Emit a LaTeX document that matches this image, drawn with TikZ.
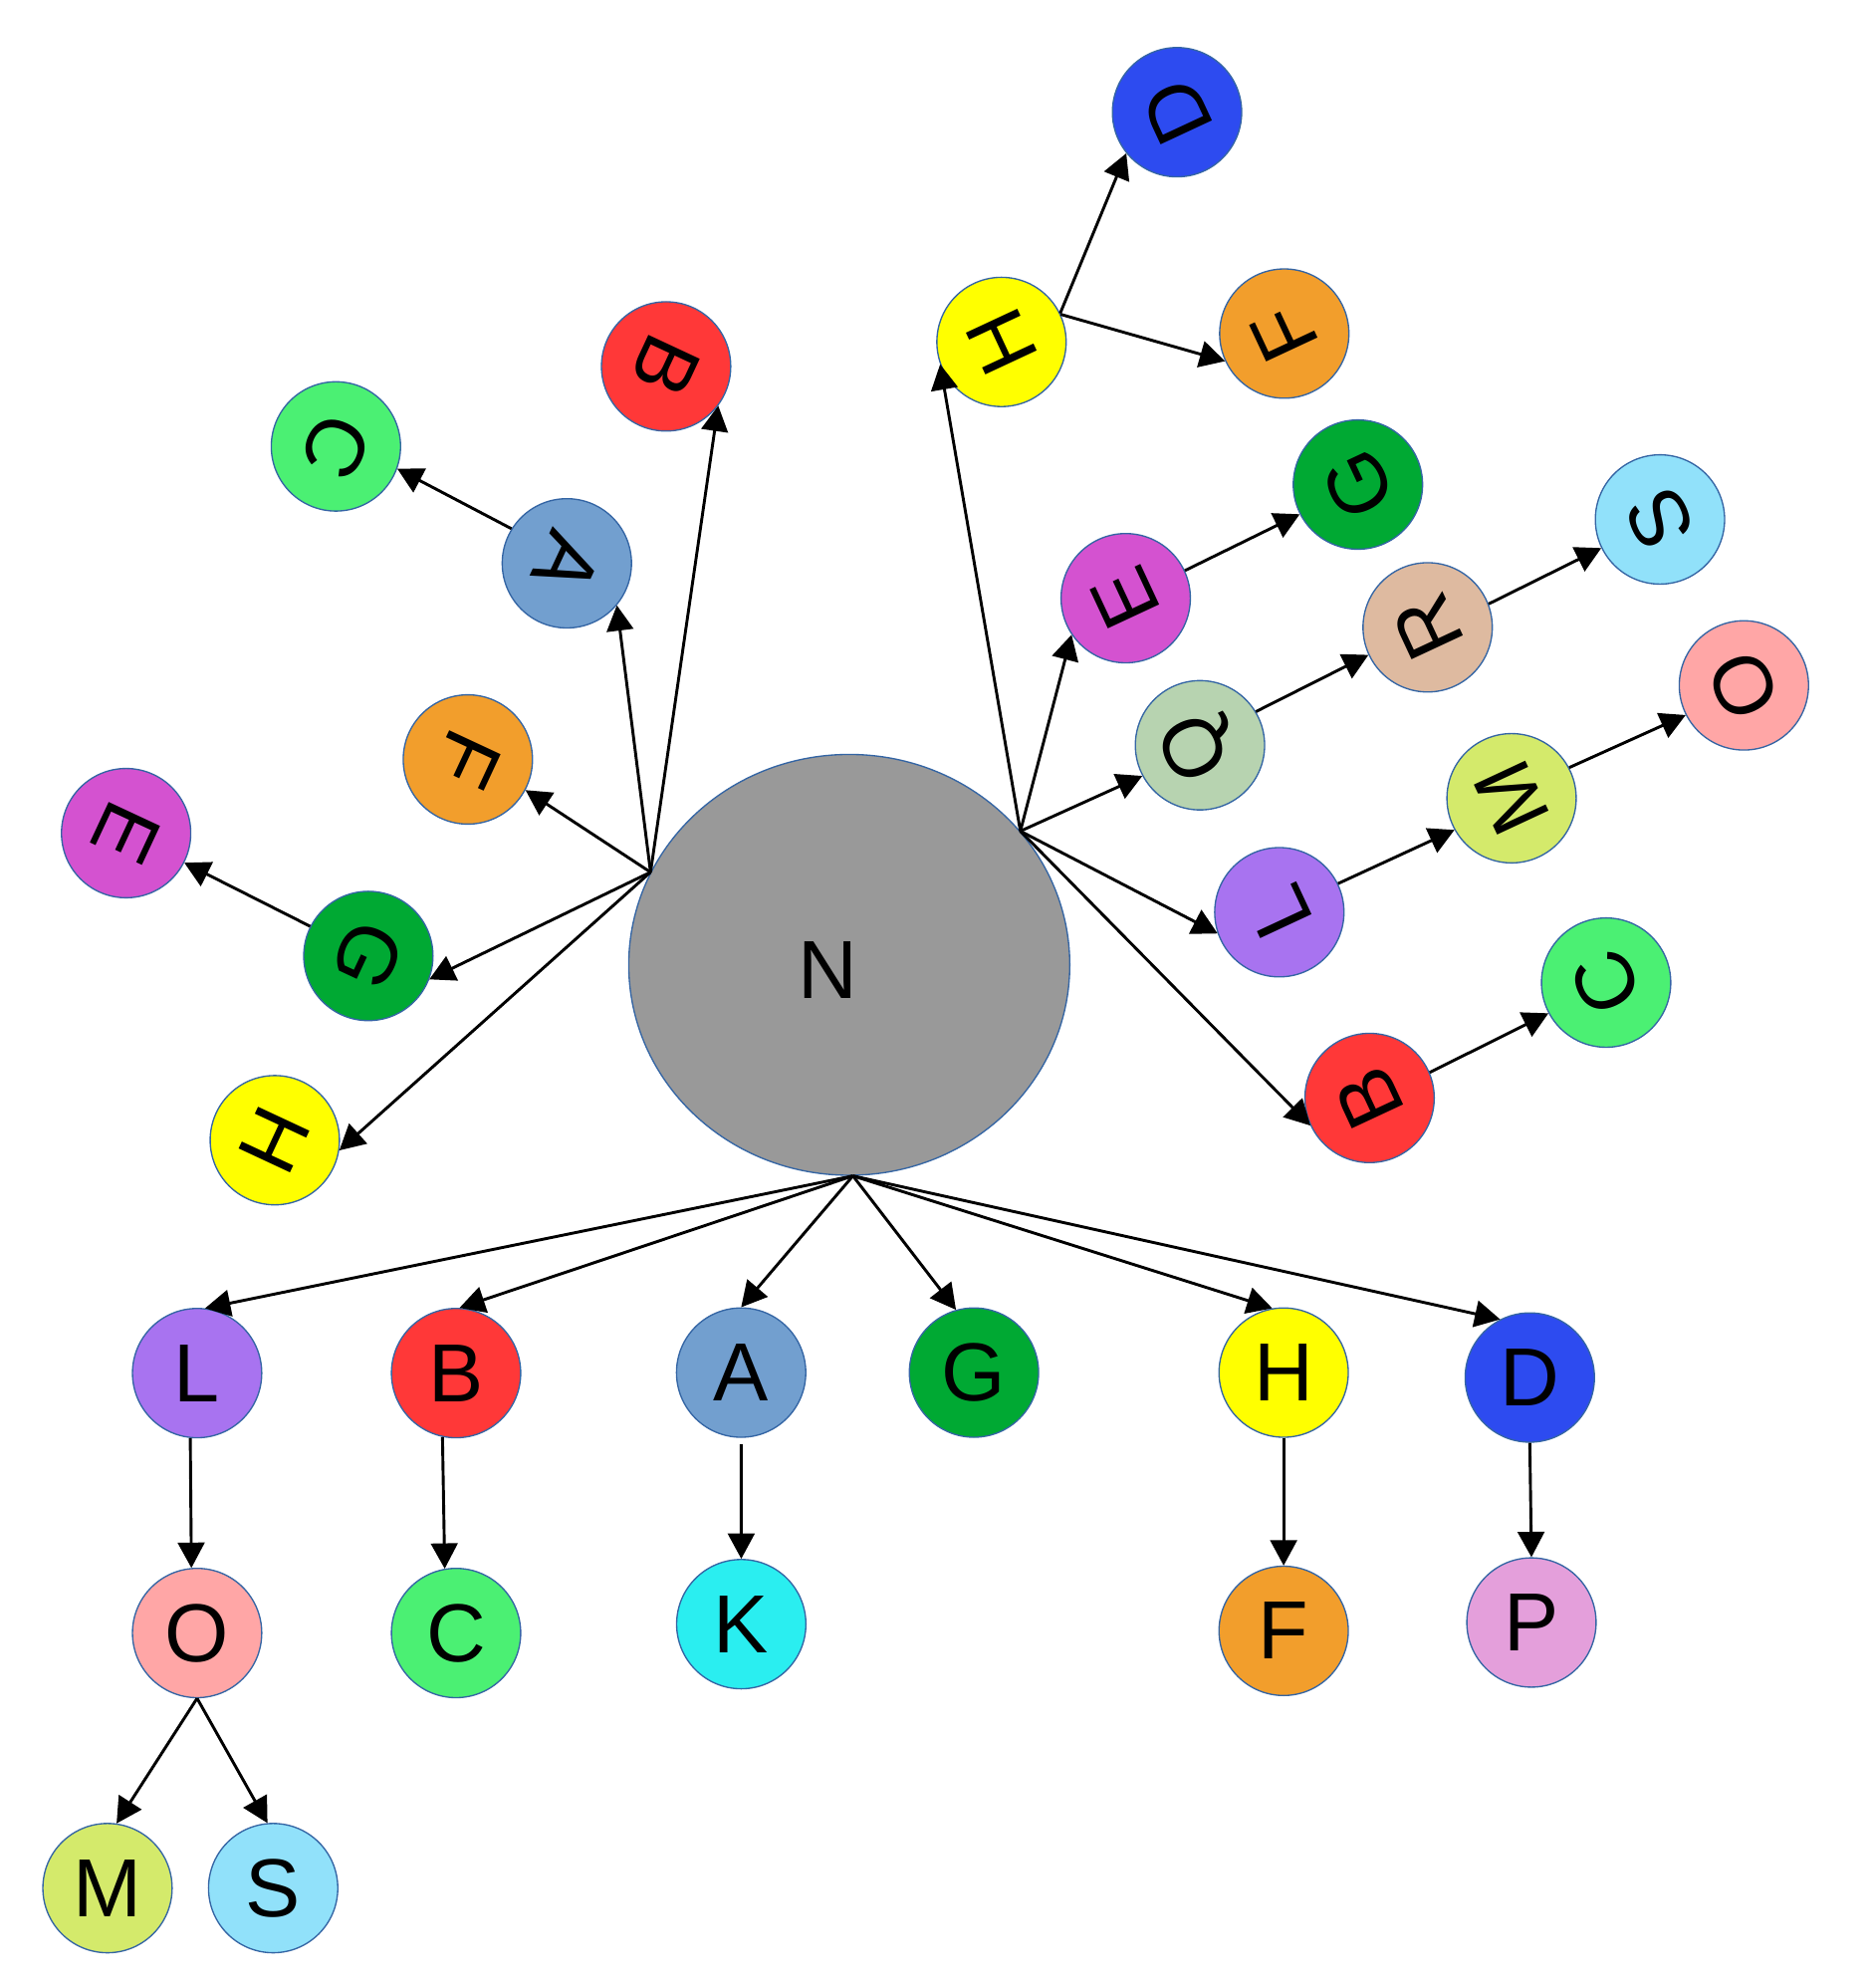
\documentclass[tikz,border=0pt]{standalone}
\usepackage{fontspec}
\setmainfont{Liberation Sans}
\usetikzlibrary{arrows.meta, shapes.geometric}

\definecolor{cborder}{HTML}{3465A4}
\definecolor{cgray}{HTML}{999999}
\definecolor{cred}{HTML}{FF3838}
\definecolor{cblue}{HTML}{729FCF}
\definecolor{cgreen}{HTML}{4BF073}
\definecolor{cdkgreen}{HTML}{00A933}
\definecolor{cyellow}{HTML}{FFFF00}
\definecolor{cdkblue}{HTML}{2D4BF0}
\definecolor{corange}{HTML}{F29E2C}
\definecolor{cmagenta}{HTML}{D452D0}
\definecolor{cpurple}{HTML}{A873F0}
\definecolor{cpink}{HTML}{FFA6A6}
\definecolor{clime}{HTML}{D4EA6B}
\definecolor{csky}{HTML}{91E1FA}
\definecolor{ccyan}{HTML}{2AEEF0}
\definecolor{clilac}{HTML}{E49FDB}
\definecolor{csage}{HTML}{B7D3B0}
\definecolor{ctan}{HTML}{DEBAA0}

\begin{document}
\begin{tikzpicture}[x=0.02cm, y=-0.02cm, font=\fontsize{37}{44}\selectfont]
  \tikzstyle{vertex} = [circle, draw=cborder, line width=0.6pt, minimum size=2.04cm, inner sep=0pt]
  \tikzstyle{edge} = [line width=1.3pt, -{Triangle[length=0.4cm, width=0.42cm]}]
  \tikzset{tl/.style={label={[rotate=-115]center:#1}}, tr/.style={label={[rotate=115]center:#1}}}
  \useasboundingbox (0,0) rectangle (1475,1568);

  \node[ellipse, draw=cborder, line width=0.6pt, fill=cgray, minimum width=6.96cm, minimum height=6.64cm, inner sep=0pt,
        label={[xshift=-0.34cm, yshift=-0.08cm]center:N}] (N) at (670,761) {};

  % left branch
  \node[vertex, fill=cred, tl=B] (B1) at (525.5,289) {};
  \node[vertex, fill=cblue, tl=A] (A1) at (447.2,444.3) {};
  \node[vertex, fill=cgreen, tl=C] (C1) at (265,352.1) {};
  \node[vertex, fill=corange, tl=F] (F1) at (369.1,599) {};
  \node[vertex, fill=cmagenta, tl=E] (E1) at (99.5,657.1) {};
  \node[vertex, fill=cdkgreen, tl=G] (G1) at (290.6,754) {};
  \node[vertex, fill=cyellow, tl=H] (H1) at (216.8,899.3) {};

  % right branch
  \node[vertex, fill=cyellow, tr=H] (H2) at (790.1,269.7) {};
  \node[vertex, fill=cdkblue, tr=D] (D2) at (928.6,88.5) {};
  \node[vertex, fill=corange, tr=F] (F2) at (1013.2,263.1) {};
  \node[vertex, fill=cmagenta, tr=E] (E2) at (888.1,471.8) {};
  \node[vertex, fill=cdkgreen, tr=G] (G2) at (1071.3,382.2) {};
  \node[vertex, fill=csage, tr=Q] (Q2) at (946.7,587.8) {};
  \node[vertex, fill=ctan, tr=R] (R2) at (1126.3,494.8) {};
  \node[vertex, fill=csky, tr=S] (S2) at (1309.6,409.7) {};
  \node[vertex, fill=cpurple, tr=L] (L2) at (1009.3,719.5) {};
  \node[vertex, fill=clime, tr=M] (M2) at (1192.5,629.6) {};
  \node[vertex, fill=cpink, tr=O] (O2) at (1375.8,540.6) {};
  \node[vertex, fill=cred, tr=B] (B2) at (1080.5,866) {};
  \node[vertex, fill=cgreen, tr=C] (C2) at (1267.1,775) {};

  % bottom branch
  \node[vertex, fill=cpurple] (L3) at (155.5,1083) {L};
  \node[vertex, fill=cred] (B3) at (359.8,1083) {B};
  \node[vertex, fill=cblue] (A3) at (584.7,1082.6) {A};
  \node[vertex, fill=cdkgreen] (G3) at (768.4,1082.6) {G};
  \node[vertex, fill=cyellow] (H3) at (1012.7,1082.6) {H};
  \node[vertex, fill=cdkblue] (D3) at (1206.9,1086.5) {D};
  \node[vertex, fill=cpink] (O3) at (155.5,1288) {O};
  \node[vertex, fill=cgreen] (C3) at (359.8,1288) {C};
  \node[vertex, fill=ccyan] (K3) at (584.8,1281) {K};
  \node[vertex, fill=corange] (F3) at (1012.7,1286.3) {F};
  \node[vertex, fill=clilac] (P3) at (1208.2,1279.7) {P};
  \node[vertex, fill=clime] (M3) at (84.8,1489.2) {M};
  \node[vertex, fill=csky] (S3) at (215.5,1489.2) {S};

  \draw[edge] (N.155) -- (B1.-37);
  \draw[edge] (N.155) -- (A1.-40);
  \draw[edge] (A1.148) -- (C1.-20);
  \draw[edge] (N.155) -- (F1.-28);
  \draw[edge] (N.155) -- (G1.-21);
  \draw[edge] (G1.153) -- (E1.-27);
  \draw[edge] (N.155) -- (H1.-9);

  \draw[edge] (N.38) -- (H2.200);
  \draw[edge] (H2.26) -- (D2.219);
  \draw[edge] (H2.25) -- (F2.205);
  \draw[edge] (N.38) -- (E2.214);
  \draw[edge] (E2.25) -- (G2.207);
  \draw[edge] (N.38) -- (Q2.208);
  \draw[edge] (Q2.31) -- (R2.205);
  \draw[edge] (R2.21) -- (S2.206);
  \draw[edge] (N.38) -- (L2.199);
  \draw[edge] (L2.26) -- (M2.209);
  \draw[edge] (M2.28) -- (O2.207);
  \draw[edge] (N.38) -- (B2.205);
  \draw[edge] (B2.23) -- (C2.208);

  \draw[edge] (N.-89) -- (L3.83);
  \draw[edge] (N.-89) -- (B3.87);
  \draw[edge] (N.-89) -- (A3.north);
  \draw[edge] (N.-89) -- (G3.106);
  \draw[edge] (N.-89) -- (H3.100);
  \draw[edge] (N.-89) -- (D3.117);
  \draw[edge] (L3.-96) -- (O3.95);
  \draw[edge] (B3.-102) -- (C3.100);
  \draw[edge, shorten <=0.1cm] (A3.south) -- (K3.north);
  \draw[edge] (H3.south) -- (F3.north);
  \draw[edge] (D3.south) -- (P3.north);
  \draw[edge] (O3.south) -- (M3.82);
  \draw[edge] (O3.south) -- (S3.95);
\end{tikzpicture}
\end{document}
